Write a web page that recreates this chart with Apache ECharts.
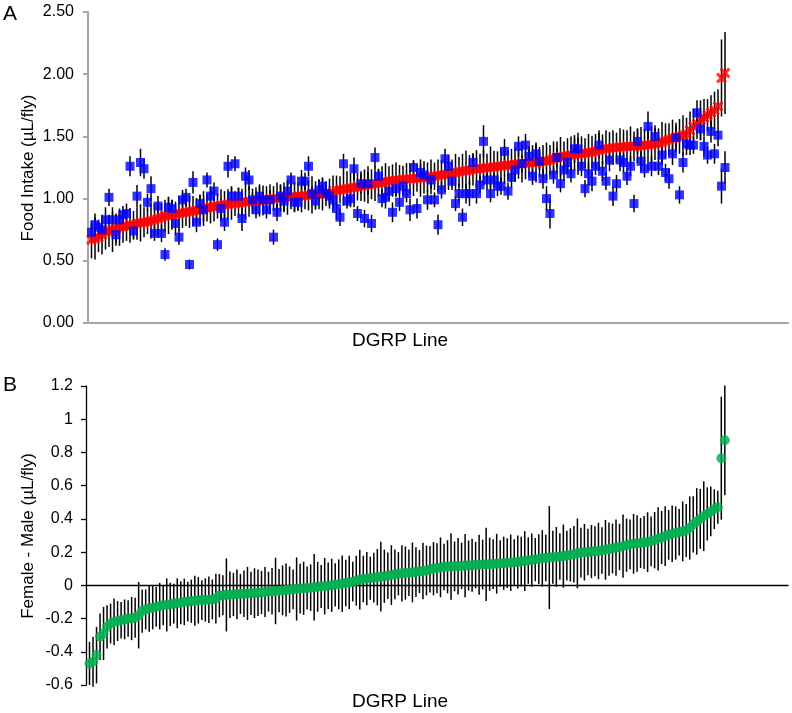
<!DOCTYPE html>
<html>
<head>
<meta charset="utf-8">
<script src="https://cdn.jsdelivr.net/npm/echarts@6/dist/echarts.min.js"></script>
<style>
html,body{margin:0;padding:0;background:#fff;}
#chart{width:792px;height:713px;}
</style>
</head>
<body>
<div id="chart"></div>
<script>
// Panel A: food intake per DGRP line (red = sorted series, blue = other sex)
const redValues = [
0.67,0.68,0.69,0.71,0.73,0.74,0.75,0.76,0.77,0.775,
0.78,0.785,0.79,0.80,0.805,0.81,0.815,0.82,0.83,0.84,
0.85,0.86,0.865,0.87,0.875,0.88,0.885,0.89,0.895,0.90,
0.905,0.91,0.92,0.925,0.93,0.935,0.94,0.945,0.95,0.955,
0.96,0.96,0.965,0.97,0.975,0.975,0.98,0.98,0.985,0.985,
0.99,0.995,1.00,1.00,1.005,1.01,1.01,1.015,1.015,1.02,
1.02,1.025,1.025,1.03,1.03,1.035,1.035,1.04,1.04,1.045,
1.065,1.07,1.075,1.08,1.085,1.09,1.095,1.10,1.105,1.11,
1.115,1.12,1.125,1.13,1.135,1.14,1.145,1.15,1.15,1.155,
1.155,1.16,1.16,1.165,1.165,1.17,1.17,1.175,1.18,1.185,
1.19,1.195,1.20,1.205,1.21,1.215,1.22,1.225,1.23,1.235,
1.24,1.24,1.245,1.25,1.25,1.255,1.26,1.26,1.265,1.27,
1.27,1.275,1.28,1.28,1.285,1.285,1.29,1.29,1.295,1.30,
1.30,1.31,1.32,1.33,1.335,1.34,1.345,1.35,1.355,1.36,
1.36,1.365,1.37,1.375,1.38,1.39,1.395,1.40,1.405,1.41,
1.41,1.415,1.415,1.42,1.42,1.42,1.425,1.425,1.43,1.43,
1.435,1.44,1.445,1.455,1.465,1.475,1.485,1.49,1.50,1.51,
1.52,1.55,1.58,1.60,1.63,1.65,1.67,1.69,1.71,1.74,
1.97,2.01];
const redErrors = [
0.15,0.17,0.12,0.16,0.14,0.13,0.18,0.12,0.15,0.13,
0.12,0.14,0.11,0.13,0.15,0.12,0.10,0.14,0.13,0.12,
0.11,0.13,0.15,0.12,0.10,0.14,0.12,0.11,0.13,0.12,
0.10,0.12,0.14,0.11,0.13,0.12,0.10,0.13,0.11,0.12,
0.13,0.10,0.12,0.11,0.14,0.12,0.10,0.11,0.13,0.12,
0.11,0.12,0.10,0.13,0.11,0.12,0.14,0.10,0.12,0.11,
0.13,0.11,0.12,0.15,0.11,0.12,0.13,0.10,0.12,0.14,
0.12,0.11,0.13,0.14,0.12,0.16,0.11,0.12,0.13,0.15,
0.12,0.14,0.11,0.13,0.15,0.12,0.13,0.14,0.12,0.11,
0.13,0.12,0.14,0.11,0.15,0.13,0.12,0.14,0.11,0.13,
0.12,0.14,0.13,0.11,0.15,0.12,0.14,0.16,0.12,0.13,
0.15,0.12,0.14,0.11,0.17,0.13,0.12,0.14,0.15,0.12,
0.13,0.14,0.12,0.15,0.13,0.11,0.14,0.16,0.12,0.13,
0.15,0.12,0.14,0.13,0.16,0.12,0.14,0.15,0.13,0.17,
0.14,0.12,0.15,0.13,0.14,0.16,0.12,0.15,0.13,0.14,
0.12,0.15,0.14,0.13,0.16,0.12,0.14,0.15,0.13,0.14,
0.15,0.13,0.12,0.16,0.14,0.13,0.15,0.12,0.14,0.16,
0.13,0.15,0.14,0.12,0.16,0.15,0.13,0.14,0.15,0.14,
0.31,0.33];
const blueValues = [
0.73,0.79,0.77,0.75,0.83,1.01,0.83,0.71,0.83,0.87,
0.88,1.26,0.74,1.02,1.29,1.24,0.97,1.08,0.72,0.94,
0.72,0.55,0.93,0.92,0.80,0.69,0.99,1.01,0.47,1.13,
0.81,0.96,0.91,1.15,1.02,1.06,0.63,0.92,0.81,1.26,
1.02,1.28,1.02,0.84,1.18,1.15,0.99,0.91,1.02,0.99,
0.91,0.99,0.69,0.89,1.02,0.98,1.06,1.15,0.97,0.97,
1.14,1.14,1.26,1.04,0.98,1.07,1.10,1.04,1.02,0.99,
0.92,0.85,1.28,0.98,1.00,1.24,0.88,1.12,0.84,1.12,
0.80,1.33,1.18,1.00,1.01,1.06,0.89,1.08,0.97,1.10,
1.04,0.91,1.25,0.92,1.21,1.19,0.99,1.15,0.99,0.79,
1.07,1.32,1.26,1.14,0.96,1.04,0.85,1.04,1.04,1.29,
1.04,1.11,1.46,1.15,1.04,1.15,1.10,1.10,1.38,1.06,
1.17,1.23,1.42,1.28,1.43,1.34,1.18,1.36,1.30,1.16,
1.00,0.88,1.19,1.33,1.12,1.23,1.29,1.20,1.40,1.40,
1.26,1.08,1.20,1.14,1.26,1.43,1.22,1.14,1.31,1.02,
1.12,1.31,1.29,1.18,1.26,0.96,1.46,1.30,1.24,1.58,
1.26,1.50,1.26,1.35,1.21,1.16,1.36,1.49,1.03,1.29,
1.44,1.43,1.43,1.69,1.56,1.42,1.35,1.54,1.36,1.51,
1.10,1.25];
const blueErrors = [
0.07,0.09,0.06,0.08,0.10,0.07,0.06,0.09,0.08,0.07,
0.08,0.08,0.07,0.09,0.11,0.08,0.07,0.10,0.06,0.08,
0.07,0.05,0.08,0.07,0.09,0.06,0.08,0.07,0.04,0.09,
0.08,0.07,0.09,0.06,0.08,0.07,0.05,0.08,0.07,0.09,
0.08,0.06,0.07,0.10,0.07,0.08,0.06,0.07,0.08,0.06,
0.07,0.08,0.06,0.07,0.09,0.08,0.07,0.06,0.08,0.07,
0.09,0.07,0.08,0.06,0.07,0.08,0.07,0.06,0.08,0.07,
0.09,0.07,0.08,0.06,0.07,0.09,0.06,0.08,0.07,0.09,
0.07,0.08,0.06,0.07,0.09,0.07,0.08,0.06,0.07,0.08,
0.07,0.09,0.06,0.08,0.07,0.06,0.08,0.07,0.06,0.08,
0.07,0.08,0.09,0.07,0.06,0.08,0.07,0.08,0.10,0.07,
0.08,0.07,0.13,0.08,0.07,0.06,0.08,0.07,0.10,0.07,
0.08,0.09,0.08,0.07,0.09,0.08,0.07,0.08,0.07,0.08,
0.10,0.12,0.07,0.08,0.07,0.09,0.08,0.07,0.11,0.09,
0.08,0.07,0.09,0.08,0.07,0.10,0.08,0.07,0.09,0.08,
0.07,0.09,0.08,0.07,0.08,0.07,0.10,0.08,0.07,0.12,
0.08,0.09,0.07,0.08,0.07,0.08,0.09,0.10,0.07,0.08,
0.09,0.08,0.07,0.10,0.09,0.08,0.07,0.09,0.08,0.09,
0.14,0.13];
// Panel B: female - male difference, sorted
const greenValues = [
-0.47,-0.46,-0.42,-0.31,-0.29,-0.25,-0.23,-0.22,-0.215,-0.21,
-0.205,-0.20,-0.20,-0.195,-0.18,-0.155,-0.145,-0.14,-0.135,-0.13,
-0.125,-0.12,-0.118,-0.115,-0.11,-0.108,-0.105,-0.10,-0.098,-0.096,
-0.093,-0.09,-0.089,-0.088,-0.087,-0.085,-0.08,-0.062,-0.06,-0.058,
-0.057,-0.055,-0.054,-0.052,-0.05,-0.049,-0.048,-0.047,-0.045,-0.043,
-0.04,-0.038,-0.036,-0.034,-0.032,-0.03,-0.028,-0.026,-0.024,-0.022,
-0.02,-0.018,-0.016,-0.014,-0.011,-0.009,-0.007,-0.005,-0.003,0.0,
0.003,0.006,0.01,0.014,0.018,0.022,0.028,0.034,0.038,0.04,
0.043,0.046,0.049,0.052,0.055,0.058,0.062,0.066,0.07,0.072,
0.074,0.076,0.078,0.08,0.083,0.086,0.09,0.097,0.10,0.103,
0.108,0.11,0.112,0.113,0.114,0.115,0.117,0.119,0.12,0.121,
0.122,0.124,0.125,0.126,0.127,0.128,0.13,0.131,0.133,0.134,
0.136,0.137,0.14,0.143,0.146,0.149,0.152,0.155,0.158,0.162,
0.165,0.167,0.169,0.171,0.173,0.176,0.179,0.183,0.187,0.192,
0.197,0.199,0.201,0.203,0.205,0.207,0.210,0.214,0.218,0.222,
0.227,0.231,0.236,0.241,0.247,0.250,0.252,0.255,0.258,0.26,
0.265,0.272,0.28,0.288,0.296,0.304,0.31,0.315,0.32,0.325,
0.33,0.345,0.367,0.385,0.40,0.417,0.43,0.445,0.458,0.47,
0.765,0.873];
const greenErrors = [
0.13,0.15,0.17,0.14,0.16,0.13,0.12,0.14,0.12,0.11,
0.12,0.11,0.13,0.12,0.20,0.13,0.12,0.14,0.13,0.12,
0.14,0.12,0.16,0.13,0.12,0.15,0.13,0.14,0.12,0.13,
0.15,0.14,0.12,0.13,0.14,0.12,0.15,0.13,0.12,0.22,
0.14,0.13,0.15,0.12,0.14,0.16,0.13,0.15,0.14,0.13,
0.15,0.12,0.14,0.20,0.13,0.15,0.16,0.14,0.12,0.19,
0.15,0.16,0.13,0.14,0.20,0.15,0.13,0.17,0.14,0.16,
0.13,0.15,0.17,0.14,0.16,0.12,0.15,0.18,0.14,0.16,
0.13,0.15,0.17,0.21,0.16,0.14,0.18,0.15,0.13,0.17,
0.16,0.14,0.18,0.15,0.13,0.17,0.15,0.14,0.16,0.15,
0.18,0.14,0.16,0.20,0.15,0.17,0.14,0.19,0.15,0.16,
0.14,0.18,0.15,0.22,0.16,0.15,0.18,0.14,0.16,0.15,
0.17,0.14,0.16,0.15,0.18,0.14,0.16,0.13,0.15,0.17,
0.14,0.31,0.16,0.18,0.14,0.19,0.15,0.16,0.17,0.21,
0.15,0.17,0.14,0.16,0.15,0.17,0.14,0.18,0.16,0.15,
0.17,0.14,0.19,0.16,0.15,0.18,0.17,0.15,0.16,0.18,
0.15,0.17,0.19,0.16,0.18,0.15,0.17,0.16,0.14,0.18,
0.16,0.19,0.17,0.20,0.18,0.21,0.16,0.15,0.12,0.10,
0.37,0.33];
const topYTicks = {min: 0, max: 2.5, interval: 0.5};
const bottomYTicks = {min: -0.6, max: 1.2, interval: 0.2};
const xRange = {min: 0, max: 200};

const lineNumbers = redValues.map((_, k) => k + 1);
const pts = (vals) => vals.map((v, k) => [lineNumbers[k], v]);
const bars = (vals, errs) => vals.map((v, k) => [lineNumbers[k], v, errs[k]]);

const FONT = '"Liberation Sans", Arial, sans-serif';

function errRender(params, api) {
  const x = api.value(0), v = api.value(1), e = api.value(2);
  const p1 = api.coord([x, v - e]);
  const p2 = api.coord([x, v + e]);
  return {type: 'line', shape: {x1: p1[0], y1: p1[1], x2: p2[0], y2: p2[1]},
          style: {stroke: '#000', lineWidth: 1.5}};
}

const xPath = 'path://M0,2 L2,0 L5,3 L8,0 L10,2 L7,5 L10,8 L8,10 L5,7 L2,10 L0,8 L3,5 Z';

const chart = echarts.init(document.getElementById('chart'), null, {renderer: 'canvas'});
chart.setOption({
  animation: false,
  backgroundColor: '#fff',
  grid: [
    {left: 88, top: 12, width: 700, height: 311},
    {left: 86, top: 386, width: 702, height: 299}
  ],
  xAxis: [
    {gridIndex: 0, type: 'value', min: xRange.min, max: xRange.max,
     axisLine: {show: true, onZero: false, lineStyle: {color: '#a6a6a6', width: 2}},
     axisTick: {show: false}, axisLabel: {show: false}, splitLine: {show: false}},
    {gridIndex: 1, type: 'value', min: xRange.min, max: xRange.max,
     axisLine: {show: true, onZero: true, lineStyle: {color: '#000', width: 1.3}},
     axisTick: {show: false}, axisLabel: {show: false}, splitLine: {show: false}}
  ],
  yAxis: [
    {gridIndex: 0, type: 'value', min: topYTicks.min, max: topYTicks.max, interval: topYTicks.interval,
     axisLine: {show: true, lineStyle: {color: '#a6a6a6', width: 2}},
     axisTick: {show: true, inside: false, length: 5, lineStyle: {color: '#a6a6a6', width: 2}},
     axisLabel: {color: '#000', fontSize: 16, fontFamily: FONT, margin: 14,
                 formatter: v => v.toFixed(2)},
     splitLine: {show: false}},
    {gridIndex: 1, type: 'value', min: bottomYTicks.min, max: bottomYTicks.max, interval: bottomYTicks.interval,
     axisLine: {show: true, onZero: false, lineStyle: {color: '#000', width: 1.3}},
     axisTick: {show: true, inside: false, length: 5, lineStyle: {color: '#000', width: 1.3}},
     axisLabel: {color: '#000', fontSize: 16, fontFamily: FONT, margin: 13,
                 formatter: v => String(parseFloat(v.toFixed(1)))},
     splitLine: {show: false}}
  ],
  graphic: [
    {type: 'text', left: 3, top: 4, style: {text: 'A', font: '21px ' + FONT, fill: '#000'}},
    {type: 'text', left: 3, top: 375, style: {text: 'B', font: '21px ' + FONT, fill: '#000'}},
    {type: 'text', x: 28, y: 168, rotation: Math.PI / 2,
     style: {text: 'Food Intake (µL/fly)', font: '17px ' + FONT, fill: '#000', align: 'center', verticalAlign: 'middle'}},
    {type: 'text', x: 28, y: 536, rotation: Math.PI / 2,
     style: {text: 'Female - Male (µL/fly)', font: '17px ' + FONT, fill: '#000', align: 'center', verticalAlign: 'middle'}},
    {type: 'text', x: 400, y: 341,
     style: {text: 'DGRP Line', font: '19px ' + FONT, fill: '#000', align: 'center', verticalAlign: 'middle'}},
    {type: 'text', x: 400, y: 702,
     style: {text: 'DGRP Line', font: '19px ' + FONT, fill: '#000', align: 'center', verticalAlign: 'middle'}}
  ],
  series: [
    {type: 'custom', xAxisIndex: 0, yAxisIndex: 0, z: 1, renderItem: errRender,
     data: bars(redValues, redErrors), encode: {x: 0, y: 1}},
    {type: 'custom', xAxisIndex: 0, yAxisIndex: 0, z: 1, renderItem: errRender,
     data: bars(blueValues, blueErrors), encode: {x: 0, y: 1}},
    {type: 'scatter', name: 'Sorted', xAxisIndex: 0, yAxisIndex: 0, z: 2,
     symbol: xPath, symbolSize: 11, itemStyle: {color: '#ff0000'}, data: pts(redValues)},
    {type: 'scatter', name: 'Other', xAxisIndex: 0, yAxisIndex: 0, z: 3,
     symbol: 'rect', symbolSize: 9, itemStyle: {color: '#0000ff'}, data: pts(blueValues)},
    {type: 'custom', xAxisIndex: 1, yAxisIndex: 1, z: 1, renderItem: errRender,
     data: bars(greenValues, greenErrors), encode: {x: 0, y: 1}},
    {type: 'scatter', name: 'Female - Male', xAxisIndex: 1, yAxisIndex: 1, z: 2,
     symbol: 'circle', symbolSize: 10, itemStyle: {color: '#00b050'}, data: pts(greenValues)}
  ]
});
</script>
</body>
</html>
